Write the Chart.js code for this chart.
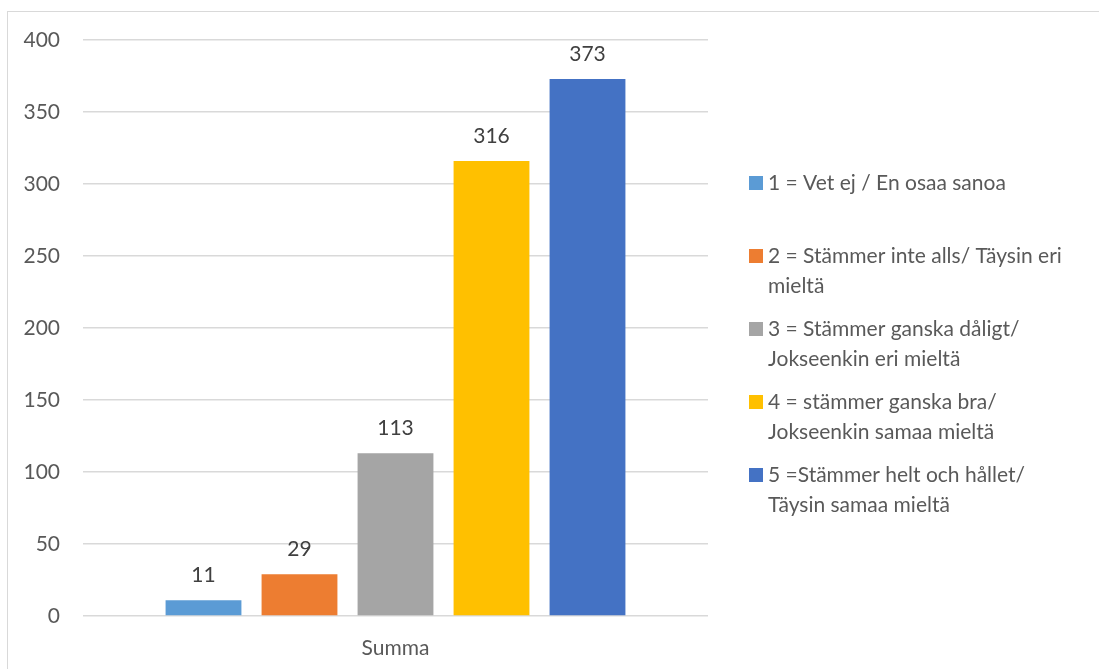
<!DOCTYPE html>
<html>
<head>
<meta charset="utf-8">
<script src="https://cdn.jsdelivr.net/npm/chart.js@4/dist/chart.umd.min.js"></script>
<style>
  html, body { margin: 0; padding: 0; background: #fff; }
  #wrap { width: 1099px; height: 669px; position: relative; }
</style>
</head>
<body>
<div id="wrap"><canvas id="summaChart" width="1099" height="669"></canvas></div>
<script>
const categories = ['Summa'];
const seriesLabels = [
    ['1 = Vet ej / En osaa sanoa'],
    ['2 = Stämmer inte alls/ Täysin eri', 'mieltä'],
    ['3 = Stämmer ganska dåligt/', 'Jokseenkin eri mieltä'],
    ['4 = stämmer ganska bra/', 'Jokseenkin samaa mieltä'],
    ['5 =Stämmer helt och hållet/', 'Täysin samaa mieltä']
];
const seriesValues = [11, 29, 113, 316, 373];
const seriesColors = ['#5B9BD5', '#ED7D31', '#A5A5A5', '#FFC000', '#4472C4'];
const yTicks = [0, 50, 100, 150, 200, 250, 300, 350, 400];

const fontFamily = 'Lato, "Open Sans", sans-serif';
const fontSize = 21;
const textColor = '#595959';

// frame around the whole chart
const framePlugin = {
    id: 'frame',
    beforeDraw(chart) {
        const ctx = chart.ctx;
        ctx.save();
        ctx.strokeStyle = '#D9D9D9';
        ctx.lineWidth = 1;
        ctx.strokeRect(7.5, 11.5, 1200, 800);
        ctx.restore();
    }
};

// value labels above each bar
const valueLabels = {
    id: 'valueLabels',
    afterDatasetsDraw(chart) {
        const ctx = chart.ctx;
        ctx.save();
        ctx.font = fontSize + 'px ' + fontFamily;
        ctx.fillStyle = '#404040';
        ctx.textAlign = 'center';
        ctx.textBaseline = 'middle';
        chart.data.datasets.forEach((ds, i) => {
            chart.getDatasetMeta(i).data.forEach((bar, j) => {
                ctx.fillText(ds.data[j], bar.x, bar.y - 25);
            });
        });
        ctx.restore();
    }
};

// legend with wrapped labels on the right
const sideLegend = {
    id: 'sideLegend',
    afterDraw(chart) {
        const ctx = chart.ctx;
        const boxX = 749, textX = 768;
        let y = 183;
        ctx.save();
        ctx.font = fontSize + 'px ' + fontFamily;
        ctx.textBaseline = 'middle';
        ctx.textAlign = 'left';
        seriesLabels.forEach((lines, i) => {
            ctx.fillStyle = seriesColors[i];
            ctx.fillRect(boxX, y - 7, 14, 14);
            ctx.fillStyle = textColor;
            lines.forEach((line, k) => ctx.fillText(line, textX, y + k * 30));
            y += 73;
        });
        ctx.restore();
    }
};

const ctx = document.getElementById('summaChart').getContext('2d');
new Chart(ctx, {
    type: 'bar',
    data: {
        labels: categories,
        datasets: seriesValues.map((v, i) => ({
            label: seriesLabels[i].join(' '),
            data: [v],
            backgroundColor: seriesColors[i],
            borderWidth: 0
        }))
    },
    options: {
        responsive: false,
        animation: false,
        categoryPercentage: 0.768,
        barPercentage: 0.79,
        layout: {
            padding: { left: 0, right: 391, top: 40, bottom: 0 }
        },
        scales: {
            x: {
                grid: { display: false, drawTicks: false },
                border: { display: false },
                afterFit(axis) { axis.height = 53; },
                ticks: {
                    color: textColor,
                    padding: 20,
                    font: { family: fontFamily, size: fontSize }
                }
            },
            y: {
                min: 0,
                max: 400,
                afterBuildTicks(axis) {
                    axis.ticks = yTicks.map(v => ({ value: v }));
                },
                afterFit(axis) { axis.width = 83; },
                grid: { color: '#D9D9D9', lineWidth: 1.5, drawTicks: false },
                border: { display: false },
                ticks: {
                    color: textColor,
                    padding: 23,
                    font: { family: fontFamily, size: fontSize }
                }
            }
        },
        plugins: {
            legend: { display: false },
            tooltip: { enabled: false }
        }
    },
    plugins: [framePlugin, valueLabels, sideLegend]
});
</script>
</body>
</html>
